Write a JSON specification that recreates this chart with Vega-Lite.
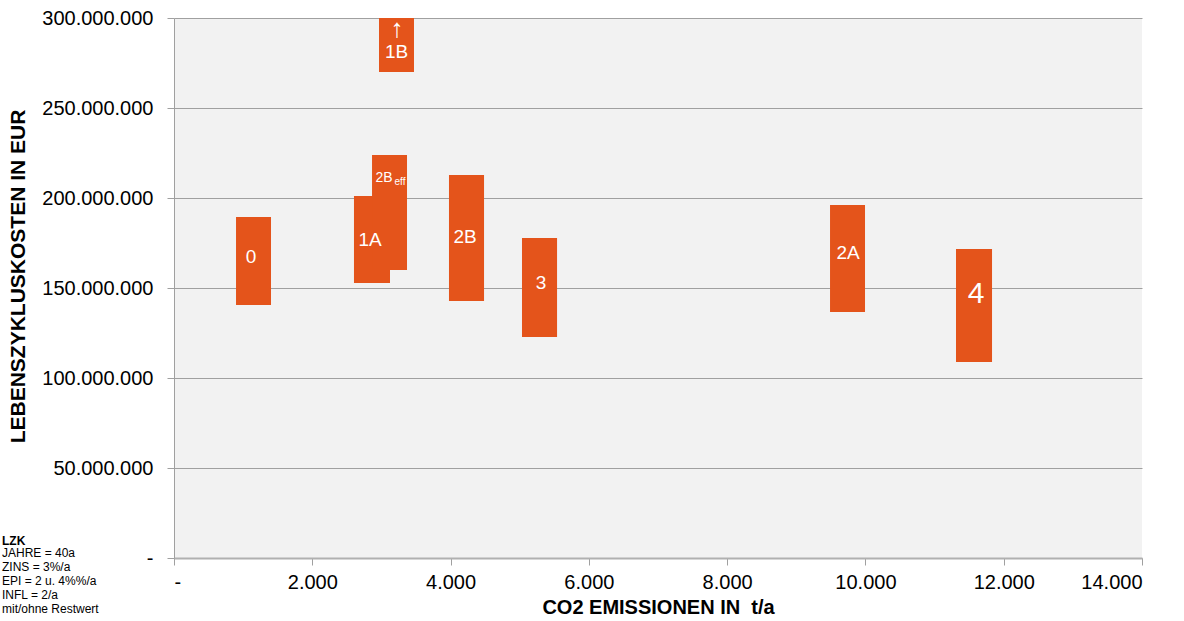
{
  "$schema": "https://vega.github.io/schema/vega-lite/v6.json",
  "width": 968,
  "height": 540,
  "autosize": {"type": "none"},
  "padding": {"left": 174, "top": 18, "right": 42, "bottom": 63},
  "background": "white",
  "config": {
    "font": "Liberation Sans",
    "view": {"fill": "#f2f2f2", "stroke": null},
    "locale": {"number": {"decimal": ",", "thousands": ".", "grouping": [3], "currency": ["", " €"]}}
  },
  "title": {
    "text": "LZK",
    "subtitle": ["JAHRE = 40a", "ZINS = 3%/a", "EPI = 2 u. 4%%/a", "INFL = 2/a", "mit/ohne Restwert"],
    "orient": "bottom",
    "anchor": "start",
    "frame": "group",
    "dx": -172,
    "dy": -85,
    "fontSize": 12,
    "fontWeight": "bold",
    "color": "black",
    "subtitleFontSize": 12,
    "subtitleColor": "black",
    "subtitleLineHeight": 14,
    "subtitlePadding": 0
  },
  "data": {
    "values": [
      {"id": "0", "x1": 897, "x2": 1403, "y1": 140600000, "y2": 189400000, "label": "0", "lx": 1114, "ly": 167000000},
      {"id": "1A", "x1": 2603, "x2": 3124, "y1": 152800000, "y2": 201100000, "label": "1A", "lx": 2835, "ly": 176700000},
      {"id": "2Beff", "x1": 2864, "x2": 3370, "y1": 160000000, "y2": 223900000, "label": "2B", "lx": 3037, "ly": 211100000, "sx": 3269, "sy": 208900000},
      {"id": "1B", "x1": 2965, "x2": 3471, "y1": 270000000, "y2": 300000000, "label": "1B", "lx": 3218, "ly": 281100000, "ax": 3225, "ay": 294000000},
      {"id": "2B", "x1": 3977, "x2": 4484, "y1": 142800000, "y2": 212800000, "label": "2B", "lx": 4209, "ly": 178300000},
      {"id": "3", "x1": 5033, "x2": 5540, "y1": 122800000, "y2": 177800000, "label": "3", "lx": 5308, "ly": 152800000},
      {"id": "2A", "x1": 9488, "x2": 9994, "y1": 136700000, "y2": 196100000, "label": "2A", "lx": 9748, "ly": 169400000},
      {"id": "4", "x1": 11310, "x2": 11831, "y1": 108900000, "y2": 171700000, "label": "4", "lx": 11600, "ly": 146700000}
    ]
  },
  "layer": [
    {
      "mark": {"type": "rect", "color": "#e4541b"},
      "encoding": {
        "x": {
          "field": "x1", "type": "quantitative",
          "scale": {"domain": [0, 14000], "nice": false, "zero": false},
          "axis": {
            "title": "CO2 EMISSIONEN IN \u00a0t/a",
            "values": [0, 2000, 4000, 6000, 8000, 10000, 12000, 14000],
            "labelExpr": "datum.value == 0 ? '-' : format(datum.value, ',')",
            "grid": false,
            "domainColor": "#b0b0b0",
            "domainWidth": 2,
            "tickColor": "#a0a0a0",
            "tickSize": 7,
            "labelFontSize": 20,
            "labelColor": "black",
            "labelPadding": 7,
            "titleFontSize": 20,
            "titleFontWeight": "bold",
            "titleColor": "black",
            "titlePadding": 5
          }
        },
        "x2": {"field": "x2"},
        "y": {
          "field": "y1", "type": "quantitative",
          "scale": {"domain": [0, 300000000], "nice": false},
          "axis": {
            "title": "LEBENSZYKLUSKOSTEN IN EUR",
            "values": [0, 50000000, 100000000, 150000000, 200000000, 250000000, 300000000],
            "labelExpr": "datum.value == 0 ? '-' : format(datum.value, ',')",
            "grid": true,
            "gridColor": "#a0a0a0",
            "domainColor": "#a0a0a0",
            "tickColor": "#a0a0a0",
            "tickSize": 7,
            "labelFontSize": 20,
            "labelColor": "black",
            "labelPadding": 14,
            "titleFontSize": 21,
            "titleFontWeight": "bold",
            "titleColor": "black",
            "titlePadding": 13,
            "titleY": 258
          }
        },
        "y2": {"field": "y2"}
      }
    },
    {
      "transform": [{"filter": "datum.id != '4' && datum.id != '2Beff'"}],
      "mark": {"type": "text", "color": "white", "fontSize": 19, "baseline": "middle", "align": "center"},
      "encoding": {
        "x": {"field": "lx", "type": "quantitative"},
        "y": {"field": "ly", "type": "quantitative"},
        "text": {"field": "label"}
      }
    },
    {
      "transform": [{"filter": "datum.id == '4'"}],
      "mark": {"type": "text", "color": "white", "fontSize": 30, "baseline": "middle", "align": "center"},
      "encoding": {
        "x": {"field": "lx", "type": "quantitative"},
        "y": {"field": "ly", "type": "quantitative"},
        "text": {"field": "label"}
      }
    },
    {
      "transform": [{"filter": "datum.id == '2Beff'"}],
      "mark": {"type": "text", "color": "white", "fontSize": 14, "baseline": "middle", "align": "center"},
      "encoding": {
        "x": {"field": "lx", "type": "quantitative"},
        "y": {"field": "ly", "type": "quantitative"},
        "text": {"field": "label"}
      }
    },
    {
      "transform": [{"filter": "datum.id == '2Beff'"}],
      "mark": {"type": "text", "color": "white", "fontSize": 10, "baseline": "middle", "align": "center", "text": "eff"},
      "encoding": {
        "x": {"field": "sx", "type": "quantitative"},
        "y": {"field": "sy", "type": "quantitative"}
      }
    },
    {
      "transform": [{"filter": "datum.id == '1B'"}],
      "mark": {"type": "text", "color": "white", "font": "Liberation Sans", "fontSize": 26, "baseline": "middle", "align": "center", "text": "↑"},
      "encoding": {
        "x": {"field": "ax", "type": "quantitative"},
        "y": {"field": "ay", "type": "quantitative"}
      }
    }
  ]
}
